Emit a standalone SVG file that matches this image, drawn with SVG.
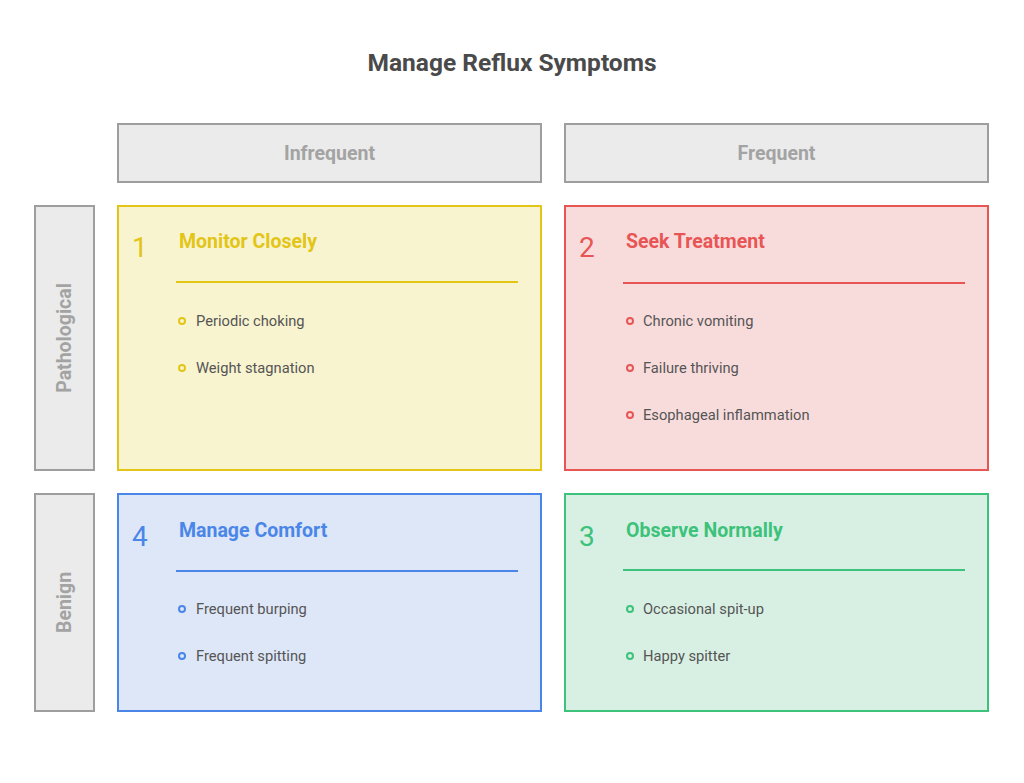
<svg xmlns="http://www.w3.org/2000/svg" width="1024" height="783" viewBox="0 0 1024 783">
<style>
text{font-family:Roboto,"Liberation Sans",sans-serif}
.title{font-size:24.5px;font-weight:bold;fill:#4a4a4a}
.hdr{fill:#ebebeb;stroke:#9e9e9e;stroke-width:2}
.hdrt{font-size:19.5px;font-weight:bold;fill:#a3a3a3}
.num{font-size:28px;font-weight:normal}
.qt{font-size:19.5px;font-weight:bold}
.it{font-size:14.7px;fill:#555}
.b{fill:none;stroke-width:2}
.y{fill:#e3c517}
.r{fill:#e85555}
.bl{fill:#4a86e8}
.g{fill:#3cc27a}
</style>
<rect width="1024" height="783" fill="#fff"/>
<text class="title" x="512" y="71" text-anchor="middle">Manage Reflux Symptoms</text>
<g id="col-infrequent"><rect class="hdr" x="118" y="124" width="423" height="58"/><text class="hdrt" x="329.5" y="160" text-anchor="middle">Infrequent</text></g>
<g id="col-frequent"><rect class="hdr" x="565" y="124" width="423" height="58"/><text class="hdrt" x="776.5" y="160" text-anchor="middle">Frequent</text></g>
<g id="row-pathological"><rect class="hdr" x="35" y="206" width="59" height="264"/><text class="hdrt" transform="translate(71,338) rotate(-90)" text-anchor="middle">Pathological</text></g>
<g id="row-benign"><rect class="hdr" x="35" y="494" width="59" height="217"/><text class="hdrt" transform="translate(71,602.5) rotate(-90)" text-anchor="middle">Benign</text></g>
<g id="q1">
<rect x="118" y="206" width="423" height="264" fill="#f8f4d0" stroke="#e3c517" stroke-width="2"/>
<text class="num y" x="132" y="257">1</text>
<text class="qt y" x="179" y="248">Monitor Closely</text>
<line x1="176" y1="282" x2="518" y2="282" stroke="#e3c517" stroke-width="2"/>
<circle class="b" stroke="#e3c517" cx="182" cy="321" r="3"/><text class="it" x="196" y="326">Periodic choking</text>
<circle class="b" stroke="#e3c517" cx="182" cy="368" r="3"/><text class="it" x="196" y="373">Weight stagnation</text>
</g>
<g id="q2">
<rect x="565" y="206" width="423" height="264" fill="#f8dcdc" stroke="#e85555" stroke-width="2"/>
<text class="num r" x="579" y="257">2</text>
<text class="qt r" x="626" y="248">Seek Treatment</text>
<line x1="623" y1="283" x2="965" y2="283" stroke="#e85555" stroke-width="2"/>
<circle class="b" stroke="#e85555" cx="630" cy="321" r="3"/><text class="it" x="643" y="326">Chronic vomiting</text>
<circle class="b" stroke="#e85555" cx="630" cy="368" r="3"/><text class="it" x="643" y="373">Failure thriving</text>
<circle class="b" stroke="#e85555" cx="630" cy="415" r="3"/><text class="it" x="643" y="420">Esophageal inflammation</text>
</g>
<g id="q4">
<rect x="118" y="494" width="423" height="217" fill="#dde7f8" stroke="#4a86e8" stroke-width="2"/>
<text class="num bl" x="132" y="546">4</text>
<text class="qt bl" x="179" y="537">Manage Comfort</text>
<line x1="176" y1="571" x2="518" y2="571" stroke="#4a86e8" stroke-width="2"/>
<circle class="b" stroke="#4a86e8" cx="182" cy="609" r="3"/><text class="it" x="196" y="614">Frequent burping</text>
<circle class="b" stroke="#4a86e8" cx="182" cy="656" r="3"/><text class="it" x="196" y="661">Frequent spitting</text>
</g>
<g id="q3">
<rect x="565" y="494" width="423" height="217" fill="#d8f0e3" stroke="#3cc27a" stroke-width="2"/>
<text class="num g" x="579" y="546">3</text>
<text class="qt g" x="626" y="537">Observe Normally</text>
<line x1="623" y1="570" x2="965" y2="570" stroke="#3cc27a" stroke-width="2"/>
<circle class="b" stroke="#3cc27a" cx="630" cy="609" r="3"/><text class="it" x="643" y="614">Occasional spit-up</text>
<circle class="b" stroke="#3cc27a" cx="630" cy="656" r="3"/><text class="it" x="643" y="661">Happy spitter</text>
</g>
<g id="connectors"/>
</svg>
